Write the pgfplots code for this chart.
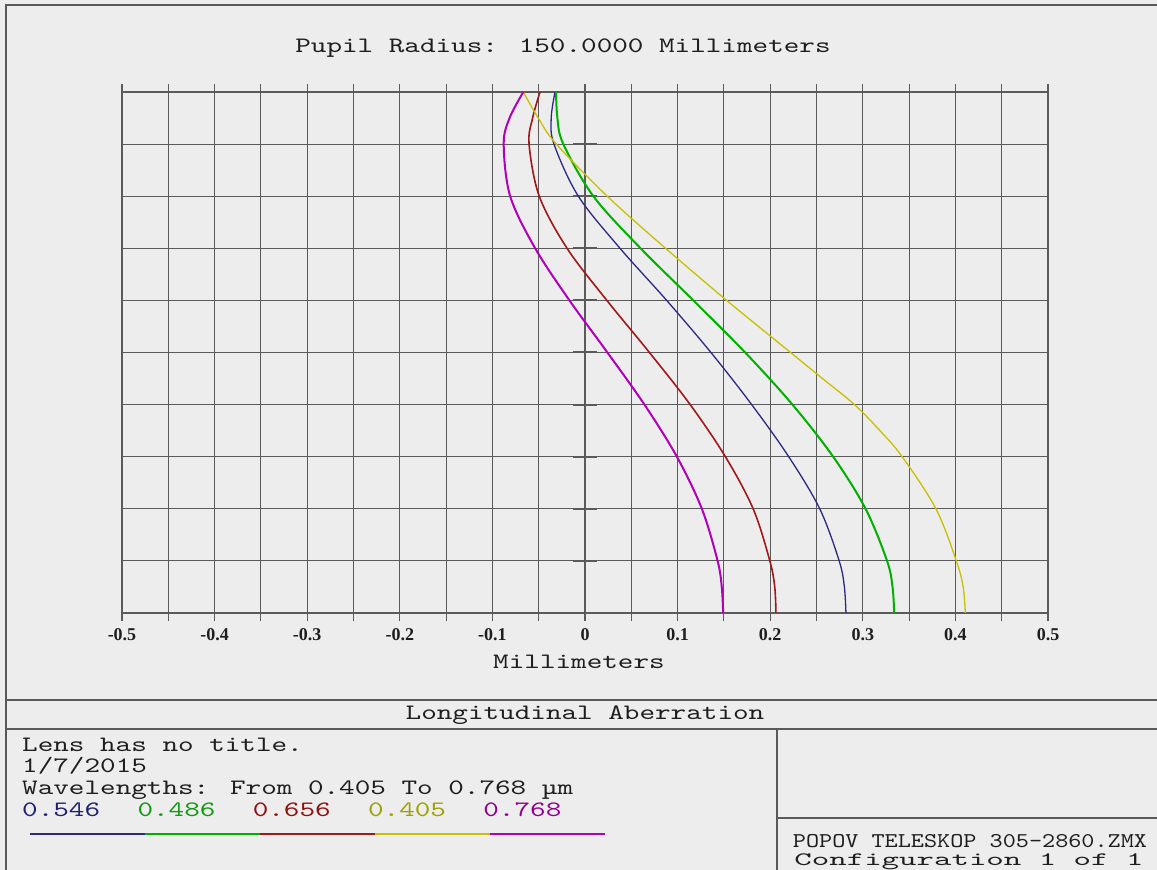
\documentclass[border=0pt]{standalone}
\usepackage{pgfplots}
\usepackage{pgfplotstable}
\pgfplotsset{compat=1.18}
\usepackage{fontspec}
\newfontfamily\zmx{lmmono10-regular}[Extension=.otf, FakeStretch=1.35]
\newfontfamily\zpop{lmmono10-regular}[Extension=.otf, FakeStretch=1.19]
\newfontfamily\zcfg{lmmono10-regular}[Extension=.otf, FakeStretch=1.75]
\newfontfamily\ztick{Liberation Serif}
\definecolor{bg}{HTML}{EDEDED}
\definecolor{gridc}{HTML}{5A5A5A}
\definecolor{txt}{HTML}{1E1E1E}
\definecolor{cblue}{HTML}{2A2A80}
\definecolor{cgreen}{HTML}{00B000}
\definecolor{cred}{HTML}{A01818}
\definecolor{cyel}{HTML}{C8C000}
\definecolor{cpur}{HTML}{B000B8}
\definecolor{tblue}{HTML}{202070}
\definecolor{tgreen}{HTML}{109A10}
\definecolor{tred}{HTML}{901010}
\definecolor{tyel}{HTML}{A0A000}
\definecolor{tpur}{HTML}{900090}

% wavelength 0.768
\pgfplotstableread{
x y
0.1492 0.00
0.1477 0.05
0.1432 0.10
0.1262 0.20
0.0992 0.30
0.0642 0.40
0.0242 0.50
-0.0168 0.60
-0.0538 0.70
-0.0808 0.80
-0.0878 0.90
-0.0815 0.95
-0.0666 1.00
}\tabpur
% wavelength 0.656
\pgfplotstableread{
x y
0.2062 0.00
0.2049 0.05
0.1996 0.10
0.1816 0.20
0.1516 0.30
0.1136 0.40
0.0696 0.50
0.0236 0.60
-0.0194 0.70
-0.0494 0.80
-0.0604 0.90
-0.0566 0.95
-0.0486 1.00
}\tabred
% wavelength 0.546
\pgfplotstableread{
x y
0.2818 0.00
0.2801 0.05
0.2745 0.10
0.2535 0.20
0.2200 0.30
0.1800 0.40
0.1360 0.50
0.0882 0.60
0.0378 0.70
-0.0072 0.80
-0.0335 0.90
-0.0365 0.95
-0.0324 1.00
}\tabblue
% wavelength 0.486
\pgfplotstableread{
x y
0.3339 0.00
0.3321 0.05
0.3262 0.10
0.3030 0.20
0.2680 0.30
0.2240 0.40
0.1730 0.50
0.1170 0.60
0.0600 0.70
0.0090 0.80
-0.0234 0.90
-0.0298 0.95
-0.0313 1.00
}\tabgreen
% wavelength 0.405
\pgfplotstableread{
x y
0.4107 0.00
0.4084 0.05
0.4010 0.10
0.3790 0.20
0.3425 0.30
0.3185 0.35
0.2910 0.40
0.2565 0.45
0.2220 0.50
0.1530 0.60
0.0870 0.70
0.0240 0.80
-0.0310 0.90
-0.0505 0.95
-0.0666 1.00
}\tabyel

\begin{document}
\begin{tikzpicture}[x=1pt,y=1pt]
\useasboundingbox (0,0) rectangle (1157,870);
\fill[bg] (0,0) rectangle (1157,870);
\draw[gridc, line width=1.2pt] (6,0) -- (6,865) -- (1157,865);

\begin{axis}[
  at={(122pt,257pt)}, anchor=south west,
  scale only axis, width=926pt, height=521pt,
  xmin=-0.5, xmax=0.5, ymin=0, ymax=1,
  xtick={-0.5,-0.4,-0.3,-0.2,-0.1,0,0.1,0.2,0.3,0.4,0.5},
  xticklabels={-0.5,-0.4,-0.3,-0.2,-0.1,0,0.1,0.2,0.3,0.4,0.5},
  minor xtick={-0.45,-0.35,-0.25,-0.15,-0.05,0.05,0.15,0.25,0.35,0.45},
  ytick={0,0.1,0.2,0.3,0.4,0.5,0.6,0.7,0.8,0.9,1},
  yticklabels={},
  grid=both,
  major grid style={gridc, line width=1.1pt},
  minor grid style={gridc, line width=1.1pt},
  axis line style={gridc, line width=1.2pt},
  tick align=outside,
  major tick length=8pt, minor tick length=8pt,
  xtick style={gridc, line width=1.1pt},
  minor tick style={gridc, line width=1.1pt},
  ytick style={draw=none},
  xticklabel style={font=\ztick\bfseries\fontsize{18}{18}\selectfont, text=txt, yshift=-4pt},
  axis background/.style={fill=bg},
]
\pgfplotsinvokeforeach{0.1,0.2,0.3,0.4,0.5,0.6,0.7,0.8,0.9}{
  \draw[gridc, line width=2pt] (axis cs:-0.013,#1) -- (axis cs:0.013,#1);
}
\addplot[cblue, line width=1.3pt, smooth, tension=0.55] table[x=x,y=y] {\tabblue};
\addplot[cgreen, line width=2pt, smooth, tension=0.55] table[x=x,y=y] {\tabgreen};
\addplot[cred, line width=1.6pt, smooth, tension=0.55] table[x=x,y=y] {\tabred};
\addplot[cyel, line width=1.3pt, smooth, tension=0.55] table[x=x,y=y] {\tabyel};
\addplot[cpur, line width=2pt, smooth, tension=0.55] table[x=x,y=y] {\tabpur};
\end{axis}

\begin{scope}[every node/.style={inner sep=0pt, text=txt, font=\zmx\fontsize{22}{22}\selectfont}]
\node[anchor=base] at (563,817) {Pupil Radius: 150.0000 Millimeters};
\node[anchor=base] at (579,201) {Millimeters};
\node[anchor=base] at (585,150) {Longitudinal Aberration};
\node[anchor=base west] at (22,118.3) {Lens has no title.};
\node[anchor=base west] at (22,97.3) {1/7/2015};
\node[anchor=base west] at (22,75) {Wavelengths: From 0.405 To 0.768 µm};
\node[anchor=base west, text=tblue] at (22,53.3) {0.546};
\node[anchor=base west, text=tgreen] at (137.3,53.3) {0.486};
\node[anchor=base west, text=tred] at (252.6,53.3) {0.656};
\node[anchor=base west, text=tyel] at (367.9,53.3) {0.405};
\node[anchor=base west, text=tpur] at (483.2,53.3) {0.768};
\node[anchor=base, font=\zpop\fontsize{21}{21}\selectfont] at (970,22) {POPOV TELESKOP 305-2860.ZMX};
\node[anchor=base, font=\zcfg\fontsize{19}{19}\selectfont] at (969,4) {Configuration 1 of 1};
\end{scope}

\draw[gridc, line width=1.2pt] (6,170) -- (1157,170);
\draw[gridc, line width=1.2pt] (6,141) -- (1157,141);
\draw[gridc, line width=1.2pt] (777,141) -- (777,0);
\draw[gridc, line width=1.2pt] (777,52) -- (1157,52);

\draw[cblue, line width=1.5pt] (30,36) -- (145,36);
\draw[cgreen, line width=1.5pt] (145,36) -- (260,36);
\draw[cred, line width=1.5pt] (260,36) -- (375,36);
\draw[cyel, line width=1.5pt] (375,36) -- (490,36);
\draw[cpur, line width=1.5pt] (490,36) -- (605,36);
\end{tikzpicture}
\end{document}
